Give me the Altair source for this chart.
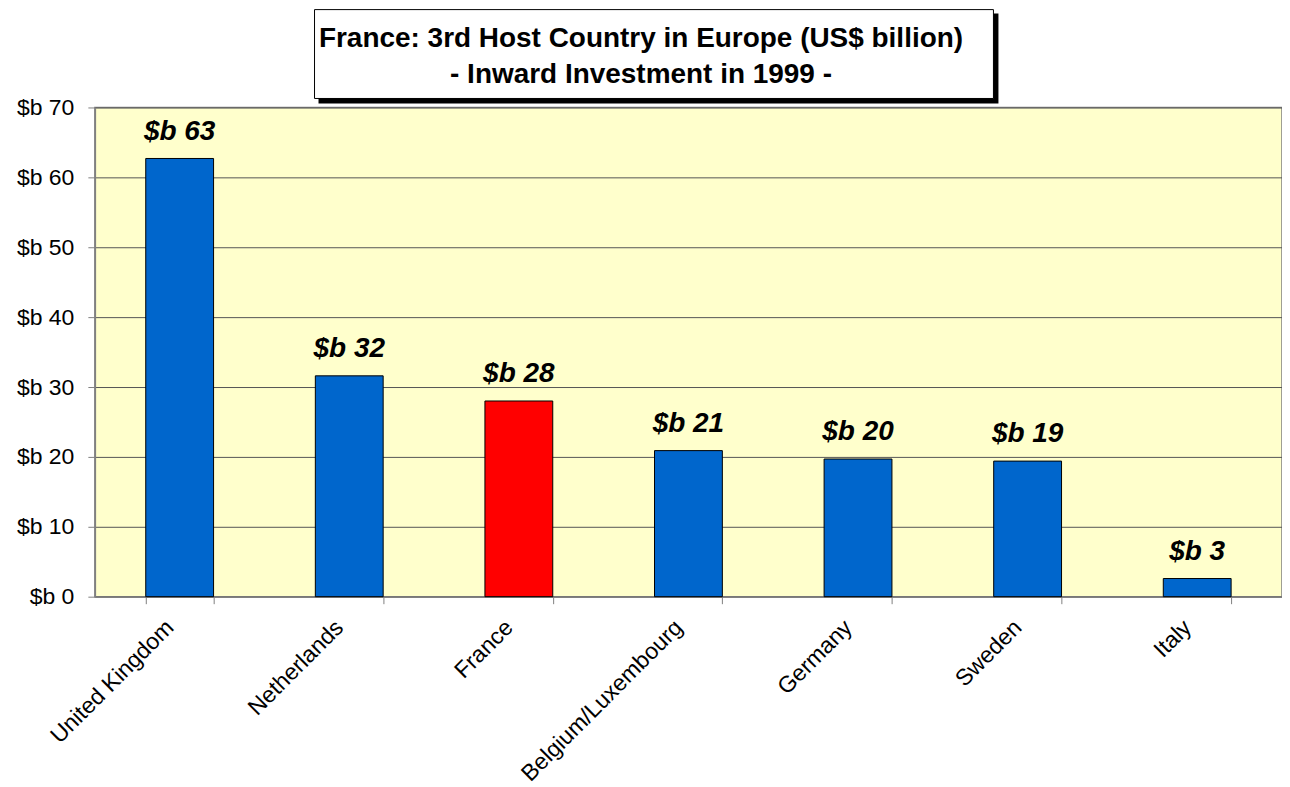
import altair as alt
import pandas as pd

countries = ["United Kingdom", "Netherlands", "France", "Belgium/Luxembourg", "Germany", "Sweden", "Italy"]
values = [62.7, 31.6, 28.0, 20.9, 19.7, 19.4, 2.6]
bar_colors = ["#0066CC", "#0066CC", "#FF0000", "#0066CC", "#0066CC", "#0066CC", "#0066CC"]
y_ticks = [0, 10, 20, 30, 40, 50, 60, 70]
title_lines = ["France: 3rd Host Country in Europe (US$ billion)", "- Inward Investment in 1999 -"]

df = pd.DataFrame({"country": countries, "value": values, "color": bar_colors})

FONT = "Liberation Sans"

x_enc = alt.X(
    "country:N",
    sort=countries,
    scale=alt.Scale(paddingInner=0.6, paddingOuter=0.3),
    axis=alt.Axis(
        title=None, labelAngle=-45, labelAlign="right", labelBaseline="middle",
        labelFontSize=23, labelFont=FONT, labelColor="black", labelPadding=20,
        labelOffset=-10, labelLimit=0, labelOverlap=False,
        tickBand="extent", tickSize=7, tickColor="#808080", domainColor="#808080",
        domainWidth=1.5, grid=False,
    ),
)
y_enc = alt.Y(
    "value:Q",
    scale=alt.Scale(domain=[0, 70], nice=False),
    axis=alt.Axis(
        title=None, values=y_ticks, labelExpr="'$b ' + datum.value",
        labelFontSize=23, labelFont=FONT, labelColor="black", labelPadding=14,
        tickSize=7, tickColor="#808080", domainColor="#808080", domainWidth=1.5,
        grid=True, gridColor="#555555", gridWidth=1,
    ),
)

bars = alt.Chart(df).mark_bar(stroke="black", strokeWidth=1).encode(
    x=x_enc, y=y_enc, color=alt.Color("color:N", scale=None)
)

labels = alt.Chart(df).transform_calculate(
    lab="'$b ' + format(datum.value, '.0f')"
).mark_text(
    font=FONT, fontSize=28, fontWeight="bold", fontStyle="italic",
    baseline="alphabetic", dy=-19, color="black"
).encode(
    x=alt.X("country:N", sort=countries), y="value:Q", text="lab:N"
)

one = pd.DataFrame({"k": [0]})
shadow = alt.Chart(one).mark_rect(color="black", clip=False).encode(
    x=alt.value(224), x2=alt.value(905), y=alt.value(-94), y2=alt.value(-4)
)
box = alt.Chart(one).mark_rect(fill="white", stroke="black", strokeWidth=1, clip=False).encode(
    x=alt.value(220), x2=alt.value(900), y=alt.value(-98), y2=alt.value(-9)
)
tdf = pd.DataFrame({"line": title_lines, "i": [0, 1]})
t1 = alt.Chart(tdf).transform_filter("datum.i == 0").mark_text(
    font=FONT, fontSize=28, fontWeight="bold", align="center", baseline="alphabetic", color="black"
).encode(x=alt.value(547), y=alt.value(-61), text="line:N")
t2 = alt.Chart(tdf).transform_filter("datum.i == 1").mark_text(
    font=FONT, fontSize=28, fontWeight="bold", align="center", baseline="alphabetic", color="black"
).encode(x=alt.value(547), y=alt.value(-24), text="line:N")

chart = alt.layer(bars, labels, shadow, box, t1, t2).properties(
    width=1189, height=490,
    padding={"left": 8, "top": 0, "right": 0, "bottom": 0},
).configure_view(fill="#FFFFCC", stroke="#808080", strokeWidth=1.5)

chart.save("out.html", embed_options={"renderer": "svg", "actions": False})
